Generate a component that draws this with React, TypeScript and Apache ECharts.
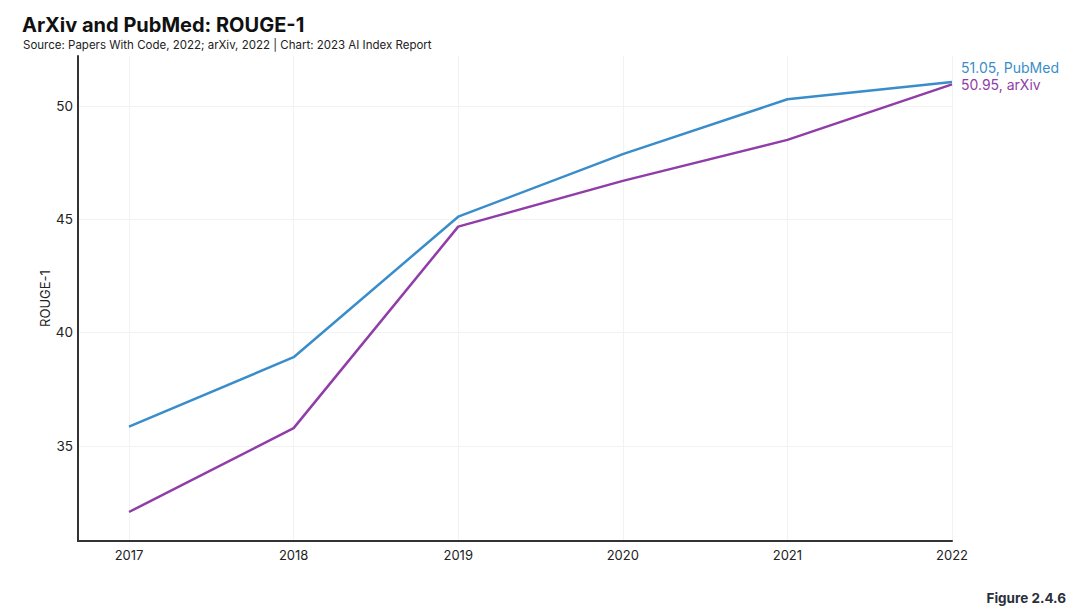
import React, { useEffect, useRef } from "react";
import * as echarts from "echarts";

const years = [2017, 2018, 2019, 2020, 2021, 2022];
const pubmed = [35.85, 38.91, 45.11, 47.87, 50.29, 51.05];
const arxiv = [32.08, 35.78, 44.67, 46.69, 48.5, 50.95];
const yTicks = [35, 40, 45, 50];

const BLUE = "#3a8dcb";
const PURPLE = "#903da8";
const FONT = "Inter, 'Noto Sans', sans-serif";

export default function App() {
  const ref = useRef<HTMLDivElement>(null);
  useEffect(() => {
    document.body.style.margin = "0";
    const chart = echarts.init(ref.current!, null, { renderer: "svg" });
    chart.setOption({
      animation: false,
      backgroundColor: "#fff",
      textStyle: { fontFamily: FONT },
      title: [
        {
          text: "ArXiv and PubMed: ROUGE-1",
          left: 17,
          top: 10,
          textStyle: { fontSize: 20, fontWeight: "bold", color: "#111", fontFamily: FONT },
        },
        {
          text: "Source: Papers With Code, 2022; arXiv, 2022 | Chart: 2023 AI Index Report",
          left: 18,
          top: 34,
          textStyle: { fontSize: 11.5, fontWeight: "normal", color: "#222", fontFamily: FONT },
        },
        {
          text: "Figure 2.4.6",
          right: 9,
          top: 586,
          textStyle: { fontSize: 13.5, fontWeight: "bold", color: "#2a2f3a", fontFamily: FONT },
        },
      ],
      grid: { left: 78, right: 128, top: 56, bottom: 75 },
      xAxis: {
        type: "value",
        min: 2016.69,
        max: 2022,
        axisLine: { show: true, lineStyle: { color: "#333", width: 2 } },
        axisTick: { show: false, customValues: years },
        axisLabel: {
          customValues: years,
          color: "#222",
          fontSize: 13,
          margin: 7,
          fontFamily: FONT,
          formatter: (v: number) => String(v),
        },
        splitLine: { show: true, lineStyle: { color: "#f2f2f2", width: 1 } },
      },
      yAxis: {
        type: "value",
        min: 30.8,
        max: 52.2,
        name: "ROUGE-1",
        nameLocation: "middle",
        nameGap: 27,
        nameMoveOverlap: false,
        nameTextStyle: { fontSize: 13, color: "#222", fontFamily: FONT },
        axisLine: { show: true, lineStyle: { color: "#333", width: 2 } },
        axisTick: { show: false, customValues: yTicks },
        axisLabel: {
          customValues: yTicks,
          color: "#222",
          fontSize: 13.5,
          margin: 5,
          fontFamily: FONT,
        },
        splitLine: { show: true, lineStyle: { color: "#f2f2f2", width: 1 } },
      },
      series: [
        {
          name: "PubMed",
          type: "line",
          data: years.map((y, i) => [y, pubmed[i]]),
          showSymbol: false,
          lineStyle: { color: BLUE, width: 2.5 },
          itemStyle: { color: BLUE },
          endLabel: {
            show: true,
            formatter: (p: any) => `${p.value[1].toFixed(2)}, PubMed`,
            color: BLUE,
            fontSize: 14,
            fontFamily: FONT,
            offset: [1, -15],
          },
        },
        {
          name: "arXiv",
          type: "line",
          data: years.map((y, i) => [y, arxiv[i]]),
          showSymbol: false,
          lineStyle: { color: PURPLE, width: 2.5 },
          itemStyle: { color: PURPLE },
          endLabel: {
            show: true,
            formatter: (p: any) => `${p.value[1].toFixed(2)}, arXiv`,
            color: PURPLE,
            fontSize: 14,
            fontFamily: FONT,
            offset: [1, 0],
          },
        },
      ],
    });
    return () => chart.dispose();
  }, []);
  return <div ref={ref} style={{ width: 1080, height: 616 }} />;
}
